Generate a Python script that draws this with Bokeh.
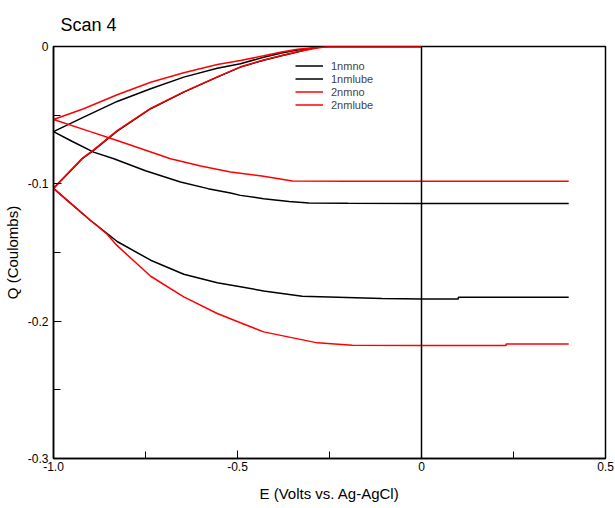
from bokeh.plotting import figure
from bokeh.models import FixedTicker, Span, Legend, LegendItem, Range1d
from bokeh.embed import file_html
from bokeh.resources import INLINE

# ---- data ----
title_text = "Scan 4"
series_names = ["1nmno", "1nmlube", "2nmno", "2nmlube"]
series_colors = ["#000000", "#000000", "#ff0000", "#ff0000"]

e_1nmno = [0.0, -0.27, -0.30, -0.337, -0.38, -0.429, -0.492, -0.555, -0.646, -0.736, -0.827, -0.918, -1.0,
           -0.95, -0.891, -0.836, -0.75, -0.655, -0.58, -0.519, -0.492, -0.429, -0.36, -0.306, -0.2, 0.0, 0.2, 0.4]
q_1nmno = [0.0, 0.0, -0.0012, -0.0025, -0.0048, -0.0078, -0.0126, -0.0158, -0.0223, -0.0308, -0.0400, -0.0514, -0.0620,
           -0.0690, -0.0769, -0.0817, -0.0905, -0.0987, -0.1035, -0.1067, -0.1084, -0.1108, -0.1128, -0.1140, -0.1142, -0.1143, -0.1143, -0.1143]

e_1nmlube = [0.0, -0.27, -0.30, -0.337, -0.38, -0.429, -0.492, -0.555, -0.646, -0.736, -0.827, -0.891, -0.922, -1.0,
             -0.95, -0.9, -0.855, -0.827, -0.736, -0.646, -0.555, -0.492, -0.429, -0.324, -0.107, 0.0, 0.1, 0.1, 0.4]
q_1nmlube = [0.0, 0.0, -0.0015, -0.0040, -0.0068, -0.0100, -0.0150, -0.0223, -0.0332, -0.0453, -0.0616, -0.0756, -0.0817, -0.1033,
              -0.1150, -0.1265, -0.1360, -0.1420, -0.1556, -0.1658, -0.1721, -0.1750, -0.1780, -0.1818, -0.1835, -0.1838, -0.1838, -0.1826, -0.1826]

e_2nmno = [0.0, -0.25, -0.28, -0.337, -0.38, -0.429, -0.492, -0.555, -0.646, -0.736, -0.827, -0.918, -1.0,
           -0.9, -0.827, -0.682, -0.6, -0.519, -0.429, -0.351, -0.2, 0.0, 0.2, 0.4]
q_2nmno = [0.0, 0.0, -0.0008, -0.0020, -0.0040, -0.0068, -0.0102, -0.0131, -0.0191, -0.0260, -0.0351, -0.0453, -0.0531,
           -0.0620, -0.0684, -0.0817, -0.0870, -0.0914, -0.0945, -0.0980, -0.0982, -0.0982, -0.0982, -0.0982]

e_2nmlube = [0.0, -0.25, -0.28, -0.337, -0.38, -0.429, -0.492, -0.555, -0.646, -0.736, -0.827, -0.891, -0.922, -1.0,
             -0.95, -0.9, -0.855, -0.827, -0.736, -0.646, -0.555, -0.492, -0.429, -0.283, -0.188, 0.0, 0.23, 0.23, 0.4]
q_2nmlube = [0.0, 0.0, -0.0010, -0.0038, -0.0066, -0.0098, -0.0148, -0.0221, -0.0330, -0.0451, -0.0613, -0.0753, -0.0814, -0.1033,
              -0.1150, -0.1265, -0.1365, -0.1450, -0.1673, -0.1823, -0.1944, -0.2012, -0.2078, -0.2158, -0.2175, -0.2178, -0.2178, -0.2166, -0.2166]

series_e = [e_1nmno, e_1nmlube, e_2nmno, e_2nmlube]
series_q = [q_1nmno, q_1nmlube, q_2nmno, q_2nmlube]

x_ticks = [-1.0, -0.5, 0.0, 0.5]
x_tick_labels = ["-1.0", "-0.5", "0", "0.5"]
x_minor = [-0.75, -0.25, 0.25]
y_ticks = [0.0, -0.1, -0.2, -0.3]
y_tick_labels = ["0", "-0.1", "-0.2", "-0.3"]
y_minor = [-0.05, -0.15, -0.25]

FONT = "Liberation Sans"

p = figure(width=615, height=504, x_range=Range1d(-1.0, 0.5), y_range=Range1d(-0.3, 0.0),
           output_backend="svg", toolbar_location=None, title=title_text,
           min_border_left=45, min_border_right=10, min_border_top=46, min_border_bottom=30)

p.title.text_font = FONT
p.title.text_font_size = "18px"
p.title.text_font_style = "normal"
p.title.text_color = "black"
p.title.offset = 7
p.title.standoff = 24

p.grid.visible = False
p.outline_line_color = "black"
p.outline_line_width = 1.5

p.xaxis.ticker = FixedTicker(ticks=x_ticks, minor_ticks=x_minor)
p.yaxis.ticker = FixedTicker(ticks=y_ticks, minor_ticks=y_minor)
p.xaxis.major_label_overrides = {t: l for t, l in zip(x_ticks, x_tick_labels)}
p.yaxis.major_label_overrides = {t: l for t, l in zip(y_ticks, y_tick_labels)}
p.xaxis.axis_label = "E (Volts vs. Ag-AgCl)"
p.yaxis.axis_label = "Q (Coulombs)"

for ax in (p.xaxis, p.yaxis):
    ax.axis_line_color = "black"
    ax.axis_line_width = 1.5
    ax.major_tick_in = 8
    ax.major_tick_out = 0
    ax.minor_tick_in = 7
    ax.minor_tick_out = 0
    ax.major_tick_line_color = "black"
    ax.minor_tick_line_color = "black"
    ax.major_label_text_font = FONT
    ax.major_label_text_font_size = "12px"
    ax.major_label_text_color = "black"
    ax.axis_label_text_font = FONT
    ax.axis_label_text_font_size = "15px"
    ax.axis_label_text_font_style = "normal"
    ax.axis_label_text_color = "black"

p.xaxis.major_label_standoff = 3
p.xaxis.axis_label_standoff = 11
p.yaxis.major_label_standoff = 5
p.yaxis.axis_label_standoff = 4

p.add_layout(Span(location=0, dimension="height", line_color="black", line_width=1.5))

items = []
for name, col, e, q in zip(series_names, series_colors, series_e, series_q):
    r = p.line(e, q, line_color=col, line_width=1.5)
    items.append(LegendItem(label=name, renderers=[r]))

legend = Legend(items=items, location=(242, 347), glyph_width=28, glyph_height=13,
                label_height=13, spacing=-1, padding=0, margin=0, label_standoff=8,
                label_text_font=FONT, label_text_font_size="11px",
                background_fill_alpha=0, border_line_alpha=0)
p.add_layout(legend)

open("out.html", "w").write(file_html(p, INLINE))
